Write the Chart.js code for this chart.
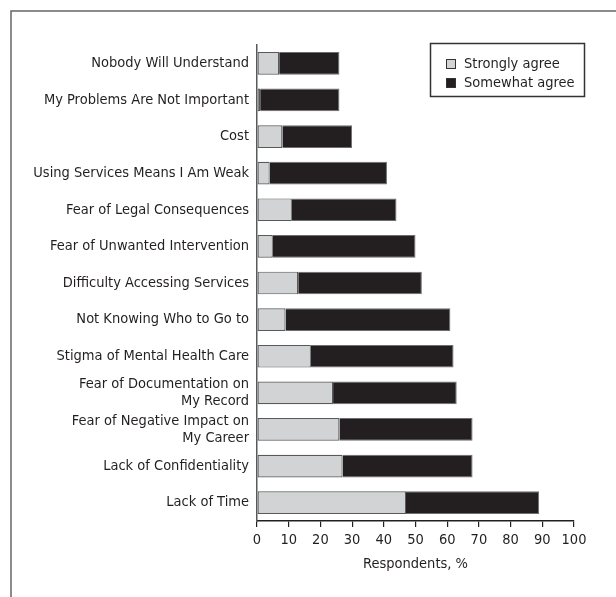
<!DOCTYPE html>
<html>
<head>
<meta charset="utf-8">
<script src="https://cdn.jsdelivr.net/npm/chart.js@4.4.1/dist/chart.umd.min.js"></script>
<style>
  html, body { margin: 0; padding: 0; background: #fff; }
  #wrap { width: 616px; height: 597px; }
</style>
</head>
<body>
<div id="wrap"><canvas id="barreras" width="616" height="597"></canvas></div>
<script>
// Datos del gráfico
const categorias = [
  "Nobody Will Understand",
  "My Problems Are Not Important",
  "Cost",
  "Using Services Means I Am Weak",
  "Fear of Legal Consequences",
  "Fear of Unwanted Intervention",
  "Difficulty Accessing Services",
  "Not Knowing Who to Go to",
  "Stigma of Mental Health Care",
  ["Fear of Documentation on", "My Record"],
  ["Fear of Negative Impact on", "My Career"],
  "Lack of Confidentiality",
  "Lack of Time",
];
const muyDeAcuerdo = [7, 1, 8, 4, 11, 5, 13, 9, 17, 24, 26, 27, 47];
const algoDeAcuerdo = [19, 25, 22, 37, 33, 45, 39, 52, 45, 39, 42, 41, 42];
const seriesNombres = ["Strongly agree", "Somewhat agree"];
const ticksX = [0, 10, 20, 30, 40, 50, 60, 70, 80, 90, 100];
const tituloX = "Respondents, %";

const FUENTE = "'Liberation Sans Narrow', 'DejaVu Sans Condensed', 'Arial Narrow', sans-serif";
const TAM = 14.5;
const TEXTO = "#231f20";

// Marco exterior y cuadro de leyenda
const marcoPlugin = {
  id: "marco",
  afterDraw(chart) {
    const ctx = chart.ctx;
    ctx.save();
    ctx.strokeStyle = "#666";
    ctx.lineWidth = 1.5;
    ctx.beginPath();
    ctx.moveTo(11, 597);
    ctx.lineTo(11, 11);
    ctx.lineTo(616, 11);
    ctx.stroke();

    // leyenda
    ctx.lineWidth = 1.5;
    ctx.strokeStyle = "#333";
    ctx.strokeRect(430.5, 43.5, 154, 53);
    ctx.font = TAM + "px " + FUENTE;
    ctx.textBaseline = "middle";
    chart.data.datasets.forEach((ds, i) => {
      const y = 64 + i * 19;
      ctx.fillStyle = ds.backgroundColor;
      ctx.fillRect(446, y - 5, 10, 10);
      ctx.lineWidth = 1;
      ctx.strokeStyle = "#333";
      ctx.strokeRect(446.5, y - 4.5, 9, 9);
      ctx.fillStyle = TEXTO;
      ctx.fillText(ds.label, 464, y);
    });
    ctx.restore();
  },
};

new Chart(document.getElementById("barreras"), {
  type: "bar",
  data: {
    labels: categorias,
    datasets: [
      {
        label: seriesNombres[0],
        data: muyDeAcuerdo,
        backgroundColor: "#d1d3d4",
        borderColor: "#58595b",
        borderWidth: 1.2,
        borderSkipped: false,
      },
      {
        label: seriesNombres[1],
        data: algoDeAcuerdo,
        backgroundColor: "#231f20",
        borderColor: "#6d6e71",
        borderWidth: { top: 1, bottom: 1, left: 0, right: 1 },
        borderSkipped: false,
      },
    ],
  },
  options: {
    indexAxis: "y",
    responsive: false,
    animation: false,
    devicePixelRatio: 1,
    categoryPercentage: 1,
    barPercentage: 0.62,
    layout: { padding: { left: 0, right: 42, top: 45, bottom: 24 } },
    plugins: {
      legend: { display: false },
      tooltip: { enabled: false },
    },
    scales: {
      x: {
        stacked: true,
        min: 0,
        max: 100,
        afterBuildTicks(scale) {
          scale.ticks = ticksX.map((v) => ({ value: v }));
        },
        afterFit(scale) {
          scale.height = 52;
        },
        grid: { drawOnChartArea: false, drawTicks: true, tickLength: 6, color: "#231f20", lineWidth: 1.2 },
        border: { display: true, color: "#231f20", width: 1.5 },
        ticks: { color: TEXTO, padding: 5, font: { family: FUENTE, size: TAM }, maxRotation: 0 },
        title: {
          display: true,
          text: tituloX,
          color: TEXTO,
          padding: { top: 0, bottom: 0 },
          font: { family: FUENTE, size: TAM },
        },
      },
      y: {
        stacked: true,
        afterFit(scale) {
          scale.width = 257;
        },
        grid: { display: false, drawTicks: false },
        border: { display: true, color: "#58595b", width: 1.5 },
        ticks: { color: TEXTO, padding: 8, autoSkip: false, font: { family: FUENTE, size: TAM, lineHeight: 1.2 } },
      },
    },
  },
  plugins: [marcoPlugin],
});
</script>
</body>
</html>
